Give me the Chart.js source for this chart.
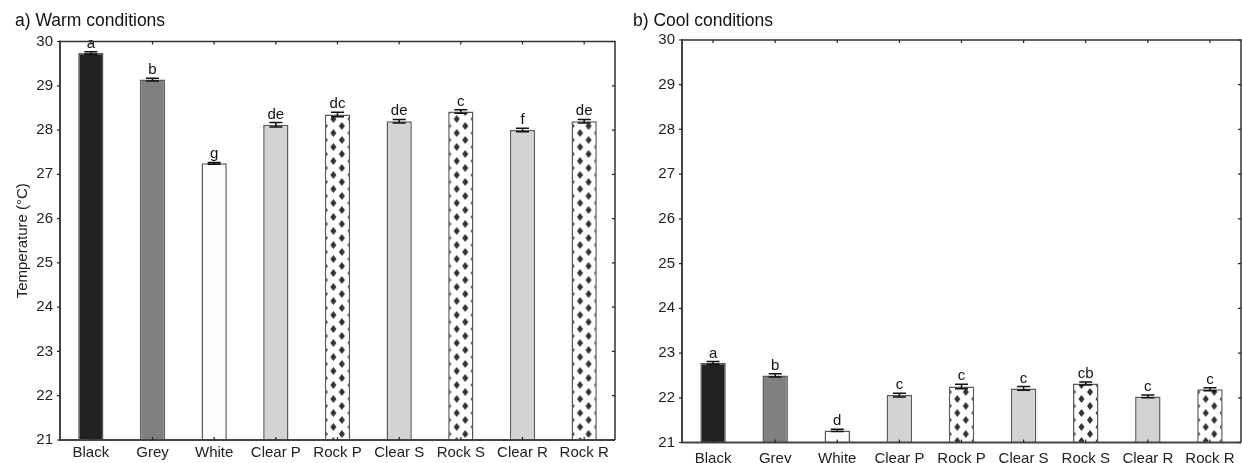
<!DOCTYPE html>
<html>
<head>
<meta charset="utf-8">
<script src="https://cdn.jsdelivr.net/npm/chart.js@4.4.1/dist/chart.umd.min.js"></script>
<style>
  html, body { margin: 0; padding: 0; background: #fff; }
  .box { position: absolute; top: 0; height: 463px; }
  #warmBox { left: 0; width: 622px; }
  #coolBox { left: 622px; width: 620px; }
</style>
</head>
<body>
<div class="box" id="warmBox"><canvas id="warm"></canvas></div>
<div class="box" id="coolBox"><canvas id="cool"></canvas></div>
<script>
const categories = ["Black", "Grey", "White", "Clear P", "Rock P", "Clear S", "Rock S", "Clear R", "Rock R"];

const warmMeans = [29.74, 29.14, 27.25, 28.12, 28.35, 28.20, 28.42, 28.00, 28.20];
const warmErrs = [0.03, 0.03, 0.02, 0.05, 0.05, 0.04, 0.04, 0.04, 0.04];
const warmLetters = ["a", "b", "g", "de", "dc", "de", "c", "f", "de"];

const coolMeans = [22.78, 22.50, 21.27, 22.06, 22.25, 22.21, 22.32, 22.03, 22.19];
const coolErrs = [0.03, 0.035, 0.025, 0.04, 0.05, 0.04, 0.035, 0.03, 0.035];
const coolLetters = ["a", "b", "d", "c", "c", "c", "cb", "c", "c"];

// "rock" bars get the diamond pattern
const barFills = ["#222222", "#808080", "#fcfcfc", "#d3d3d5", "rock", "#d3d3d5", "rock", "#d3d3d5", "rock"];

const FONT = "'Liberation Sans', Arial, sans-serif";
const BAR_PCT = 0.41;

function diamondTile() {
    const tile = document.createElement("canvas");
    tile.width = 17;
    tile.height = 14;
    const g = tile.getContext("2d");
    g.fillStyle = "#ffffff";
    g.fillRect(0, 0, 17, 14);
    g.fillStyle = "#333333";
    const diamond = (x, y) => {
        g.beginPath();
        g.moveTo(x, y - 4);
        g.lineTo(x + 3, y);
        g.lineTo(x, y + 4);
        g.lineTo(x - 3, y);
        g.closePath();
        g.fill();
    };
    [[0, 0], [17, 0], [0, 14], [17, 14], [8.5, 7]].forEach(p => diamond(p[0], p[1]));
    return tile;
}

function makeChart(id, cfg) {
    const canvas = document.getElementById(id);
    const ctx = canvas.getContext("2d");
    const tile = diamondTile();

    // pattern lined up with the left edge of each bar
    function fillFor(c) {
        const f = barFills[c.dataIndex];
        if (f !== "rock") return f;
        const x = c.chart.scales.x;
        if (!x || !x.width) return "#ffffff";
        const bw = x.width / categories.length * BAR_PCT;
        const left = x.getPixelForValue(c.dataIndex) - bw / 2;
        const p = ctx.createPattern(tile, "repeat");
        p.setTransform(new DOMMatrix([1, 0, 0, 1, left, 0]));
        return p;
    }

    const extras = {
        id: "extras",
        afterDatasetsDraw(chart) {
            const c = chart.ctx;
            const y = chart.scales.y;
            const meta = chart.getDatasetMeta(0);
            c.save();
            c.strokeStyle = "#111";
            c.lineWidth = 1.5;
            meta.data.forEach((bar, i) => {
                const hi = y.getPixelForValue(cfg.means[i] + cfg.errs[i]);
                const lo = y.getPixelForValue(cfg.means[i] - cfg.errs[i]);
                c.beginPath();
                c.moveTo(bar.x, hi); c.lineTo(bar.x, lo);
                c.moveTo(bar.x - 6.5, hi); c.lineTo(bar.x + 6.5, hi);
                c.moveTo(bar.x - 6.5, lo); c.lineTo(bar.x + 6.5, lo);
                c.stroke();
                c.fillStyle = "#111";
                c.font = "15px " + FONT;
                c.textAlign = "center";
                c.textBaseline = "alphabetic";
                c.fillText(cfg.letters[i], bar.x, hi - 4);
            });
            c.restore();
        },
        afterDraw(chart) {
            const c = chart.ctx;
            const a = chart.chartArea;
            const y = chart.scales.y;
            const meta = chart.getDatasetMeta(0);
            c.save();
            c.strokeStyle = "#333";
            c.lineWidth = 1.5;
            c.beginPath();
            c.moveTo(a.left, a.top); c.lineTo(a.right, a.top); c.lineTo(a.right, a.bottom);
            c.stroke();
            c.strokeStyle = "#444";
            c.lineWidth = 2;
            c.beginPath();
            c.moveTo(a.left, a.top - 1); c.lineTo(a.left, a.bottom); c.lineTo(a.right, a.bottom);
            c.stroke();
            c.lineWidth = 1.2;
            c.strokeStyle = "#222";
            c.beginPath();
            y.ticks.forEach(t => {
                const py = y.getPixelForValue(t.value);
                c.moveTo(a.left - 3, py); c.lineTo(a.left, py);
                c.moveTo(a.right - 3, py); c.lineTo(a.right, py);
            });
            meta.data.forEach(bar => {
                c.moveTo(bar.x, a.top); c.lineTo(bar.x, a.top + 3);
                c.moveTo(bar.x, a.bottom); c.lineTo(bar.x, a.bottom - 3);
            });
            c.stroke();
            c.fillStyle = "#111";
            c.font = "17.5px " + FONT;
            c.textAlign = "left";
            c.textBaseline = "alphabetic";
            c.fillText(cfg.title, cfg.titleX, 26);
            c.restore();
        }
    };

    return new Chart(ctx, {
        type: "bar",
        data: {
            labels: categories,
            datasets: [{
                data: cfg.means,
                backgroundColor: fillFor,
                borderColor: "#5a5a5a",
                borderWidth: 1.5,
                borderSkipped: false,
                barPercentage: BAR_PCT,
                categoryPercentage: 1
            }]
        },
        options: {
            responsive: true,
            maintainAspectRatio: false,
            animation: false,
            layout: { padding: { top: cfg.top, right: cfg.right, left: 0, bottom: 0 } },
            plugins: {
                legend: { display: false },
                tooltip: { enabled: false }
            },
            scales: {
                x: {
                    grid: { display: false, drawTicks: false },
                    border: { display: false },
                    ticks: { color: "#222", font: { family: FONT, size: 15 }, padding: cfg.xPad, autoSkip: false, maxRotation: 0 },
                    afterFit(s) { s.height = cfg.xHeight; }
                },
                y: {
                    min: 21,
                    max: 30,
                    grid: { display: false, drawTicks: false },
                    border: { display: false },
                    ticks: { stepSize: 1, color: "#222", font: { family: FONT, size: 15 }, padding: 7 },
                    title: {
                        display: cfg.yTitle !== "",
                        text: cfg.yTitle,
                        color: "#222",
                        font: { family: FONT, size: 15 },
                        padding: { top: 14, bottom: 0 }
                    },
                    afterFit(s) { s.width = 60; }
                }
            }
        },
        plugins: [extras]
    });
}

makeChart("warm", {
    means: warmMeans, errs: warmErrs, letters: warmLetters,
    title: "a) Warm conditions", titleX: 15, yTitle: "Temperature (°C)",
    top: 41.5, right: 7, xHeight: 23, xPad: 4
});

makeChart("cool", {
    means: coolMeans, errs: coolErrs, letters: coolLetters,
    title: "b) Cool conditions", titleX: 11, yTitle: "",
    top: 40, right: 1, xHeight: 20.5, xPad: 7
});
</script>
</body>
</html>
